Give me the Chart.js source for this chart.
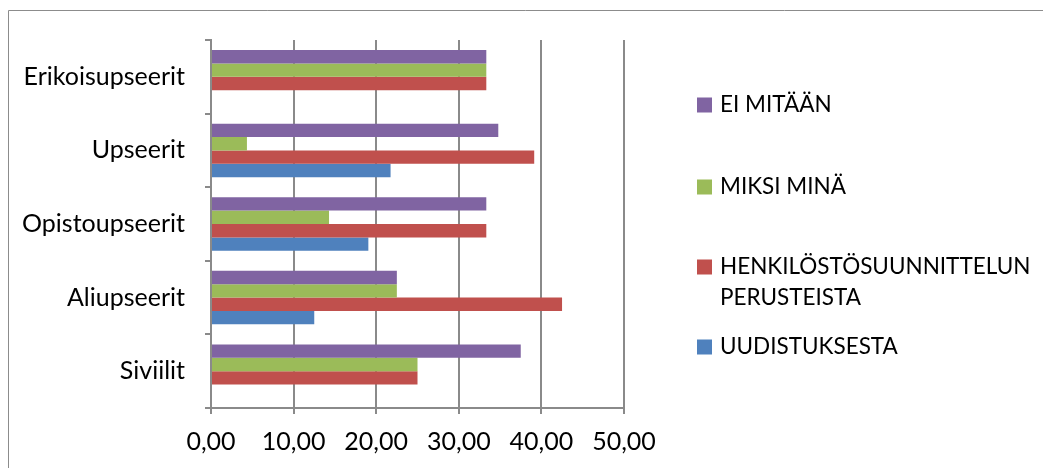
<!DOCTYPE html>
<html>
<head>
<meta charset="utf-8">
<script src="https://cdn.jsdelivr.net/npm/chart.js@4"></script>
<style>
  html, body { margin: 0; padding: 0; background: #ffffff; }
  #wrap { width: 1043px; height: 468px; position: relative; }
</style>
</head>
<body>
<div id="wrap"><canvas id="c" width="1043" height="468"></canvas></div>
<script>
// Respondent groups, listed top to bottom
const categories = ['Erikoisupseerit', 'Upseerit', 'Opistoupseerit', 'Aliupseerit', 'Siviilit'];

// Series names (legend order, top to bottom)
const seriesNames = ['EI MITÄÄN', 'MIKSI MINÄ', 'HENKILÖSTÖSUUNNITTELUN PERUSTEISTA', 'UUDISTUKSESTA'];

// Shares per group, percent
const eiMitaan      = [33.33, 34.78, 33.33, 22.50, 37.50];
const miksiMina     = [33.33,  4.35, 14.29, 22.50, 25.00];
const henkilosto    = [33.33, 39.13, 33.33, 42.50, 25.00];
const uudistuksesta = [ 0.00, 21.74, 19.05, 12.50,  0.00];

// Value axis tick labels
const xTickLabels = ['0,00', '10,00', '20,00', '30,00', '40,00', '50,00'];

const seriesColors = ['#8064A2', '#9BBB59', '#C0504D', '#4F81BD'];
const seriesValues = [eiMitaan, miksiMina, henkilosto, uudistuksesta];

const FONT = 'Lato, "Open Sans", sans-serif';
const AXIS_FONT_SIZE = 25;
const LEGEND_FONT_SIZE = 22.5;
const GRID = '#8a8a8a';

// Outer frame of the chart object
const framePlugin = {
  id: 'frame',
  beforeDraw(chart) {
    const ctx = chart.ctx;
    ctx.save();
    ctx.strokeStyle = '#8c8c8c';
    ctx.lineWidth = 1;
    ctx.beginPath();
    ctx.moveTo(8.5, chart.height);
    ctx.lineTo(8.5, 10.5);
    ctx.lineTo(chart.width, 10.5);
    ctx.stroke();
    ctx.restore();
  }
};

// Legend on the right, with wrapped labels
const sideLegend = {
  id: 'sideLegend',
  afterDraw(chart, args, opts) {
    const ctx = chart.ctx;
    ctx.save();
    ctx.font = LEGEND_FONT_SIZE + 'px ' + FONT;
    ctx.textBaseline = 'middle';
    ctx.textAlign = 'left';
    chart.data.datasets.forEach((ds, i) => {
      const cy = opts.rows[i];
      ctx.fillStyle = ds.backgroundColor;
      ctx.fillRect(opts.boxX, cy - opts.box / 2, opts.box, opts.box);
      // simple word wrap
      const words = ds.label.split(' ');
      const lines = [];
      let line = '';
      words.forEach(w => {
        const test = line ? line + ' ' + w : w;
        if (line && ctx.measureText(test).width > opts.maxWidth) {
          lines.push(line);
          line = w;
        } else {
          line = test;
        }
      });
      if (line) lines.push(line);
      ctx.fillStyle = '#000000';
      lines.forEach((l, k) => {
        ctx.fillText(l, opts.textX, cy + k * opts.lineHeight);
      });
    });
    ctx.restore();
  }
};

new Chart(document.getElementById('c'), {
  type: 'bar',
  data: {
    labels: categories,
    datasets: seriesNames.map((name, i) => ({
      label: name,
      data: seriesValues[i],
      backgroundColor: seriesColors[i],
      borderWidth: 0,
      categoryPercentage: 0.727,
      barPercentage: 1.0
    }))
  },
  options: {
    indexAxis: 'y',
    responsive: false,
    devicePixelRatio: 1,
    animation: false,
    layout: { padding: { top: 40, right: 419, left: 0, bottom: 0 } },
    plugins: {
      legend: { display: false },
      tooltip: { enabled: false },
      sideLegend: {
        boxX: 697, box: 15, textX: 720, maxWidth: 315, lineHeight: 31,
        rows: [105, 187, 267, 347]
      }
    },
    scales: {
      x: {
        min: 0,
        max: 50,
        ticks: {
          stepSize: 10,
          padding: 13,
          color: '#000000',
          font: { family: FONT, size: AXIS_FONT_SIZE },
          callback: (v, i) => xTickLabels[i]
        },
        grid: {
          color: GRID,
          lineWidth: 2,
          drawOnChartArea: true,
          drawTicks: true,
          tickLength: 6,
          tickColor: GRID
        },
        border: { display: true, color: GRID, width: 2 },
        afterFit(scale) { scale.height = 60; }
      },
      y: {
        offset: true,
        ticks: {
          padding: 20,
          color: '#000000',
          font: { family: FONT, size: AXIS_FONT_SIZE }
        },
        grid: {
          offset: true,
          drawOnChartArea: false,
          drawTicks: true,
          tickLength: 6,
          color: GRID,
          lineWidth: 2
        },
        border: { display: true, color: GRID, width: 2 },
        afterFit(scale) { scale.width = 211; }
      }
    }
  },
  plugins: [framePlugin, sideLegend]
});
</script>
</body>
</html>
